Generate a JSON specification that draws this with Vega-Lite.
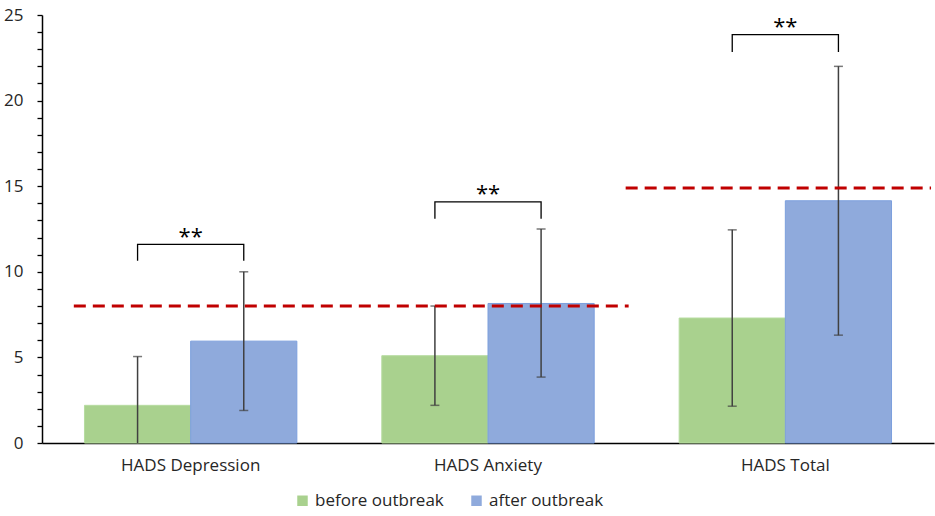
{
  "$schema": "https://vega.github.io/schema/vega-lite/v6.json",
  "width": 892,
  "height": 428,
  "autosize": {"type": "none"},
  "padding": {"left": 42, "top": 15, "right": 1, "bottom": 73},
  "config": {"font": "Open Sans", "view": {"stroke": null}},
  "datasets": {
    "bars": [
      {"cat": "HADS Depression", "grp": "before outbreak", "mean": 2.2, "lo": -0.65, "hi": 5.05},
      {"cat": "HADS Depression", "grp": "after outbreak", "mean": 5.95, "lo": 1.9, "hi": 10.0},
      {"cat": "HADS Anxiety", "grp": "before outbreak", "mean": 5.1, "lo": 2.2, "hi": 8.0},
      {"cat": "HADS Anxiety", "grp": "after outbreak", "mean": 8.15, "lo": 3.85, "hi": 12.5},
      {"cat": "HADS Total", "grp": "before outbreak", "mean": 7.3, "lo": 2.15, "hi": 12.45},
      {"cat": "HADS Total", "grp": "after outbreak", "mean": 14.15, "lo": 6.3, "hi": 22.0}
    ],
    "brackets": [
      {"cat": "HADS Depression", "grp": "before outbreak", "y": 10.65, "ord": 1},
      {"cat": "HADS Depression", "grp": "before outbreak", "y": 11.6, "ord": 2},
      {"cat": "HADS Depression", "grp": "after outbreak", "y": 11.6, "ord": 3},
      {"cat": "HADS Depression", "grp": "after outbreak", "y": 10.65, "ord": 4},
      {"cat": "HADS Anxiety", "grp": "before outbreak", "y": 13.1, "ord": 1},
      {"cat": "HADS Anxiety", "grp": "before outbreak", "y": 14.08, "ord": 2},
      {"cat": "HADS Anxiety", "grp": "after outbreak", "y": 14.08, "ord": 3},
      {"cat": "HADS Anxiety", "grp": "after outbreak", "y": 13.1, "ord": 4},
      {"cat": "HADS Total", "grp": "before outbreak", "y": 22.84, "ord": 1},
      {"cat": "HADS Total", "grp": "before outbreak", "y": 23.85, "ord": 2},
      {"cat": "HADS Total", "grp": "after outbreak", "y": 23.85, "ord": 3},
      {"cat": "HADS Total", "grp": "after outbreak", "y": 22.84, "ord": 4}
    ],
    "stars": [
      {"cat": "HADS Depression", "y": 12.25, "label": "**"},
      {"cat": "HADS Anxiety", "y": 14.75, "label": "**"},
      {"cat": "HADS Total", "y": 24.53, "label": "**"}
    ],
    "cutoffs": [
      {"x0": 0.107, "x1": 1.973, "y": 8.0},
      {"x0": 1.963, "x1": 2.99, "y": 14.9}
    ]
  },
  "layer": [
    {
      "layer": [
        {
          "data": {"name": "bars"},
          "mark": {"type": "bar", "strokeWidth": 1},
          "encoding": {
            "x": {
              "field": "cat", "type": "nominal",
              "sort": ["HADS Depression", "HADS Anxiety", "HADS Total"],
              "scale": {"paddingInner": 0, "paddingOuter": 0},
              "axis": {"title": null, "labelAngle": 0, "ticks": false, "domainColor": "#000000", "domainWidth": 1.5, "labelPadding": 14, "labelFontSize": 17, "labelColor": "#262626"}
            },
            "xOffset": {
              "field": "grp", "type": "nominal",
              "sort": ["before outbreak", "after outbreak"],
              "scale": {"paddingInner": 0, "paddingOuter": 0.4}
            },
            "y": {
              "field": "mean", "type": "quantitative",
              "scale": {"domain": [0, 25], "nice": false, "zero": true},
              "axis": {
                "title": null, "grid": false,
                "tickCount": 25,
                "labelExpr": "datum.value % 5 === 0 ? datum.label : ''",
                "tickSize": 5, "labelPadding": 14, "labelFontSize": 17, "labelColor": "#262626",
                "domainColor": "#000000", "domainWidth": 1.5, "tickColor": "#000000", "tickWidth": 1.3,
                "encode": {"ticks": {"update": {
                  "x": {"signal": "datum.value % 5 === 0 ? 6.5 : 0"},
                  "x2": {"signal": "datum.value % 5 === 0 ? -7 : -5"}
                }}}
              }
            },
            "color": {
              "field": "grp", "type": "nominal",
              "scale": {"domain": ["before outbreak", "after outbreak"], "range": ["#A9D18E", "#8FAADC"]},
              "legend": {"orient": "none", "legendX": 252, "legendY": 477, "direction": "horizontal", "title": null, "symbolType": "square", "symbolSize": 110, "symbolStrokeWidth": 0, "labelFontSize": 17, "labelColor": "#262626", "columnPadding": 24, "labelOffset": 4}
            },
            "stroke": {
              "field": "grp", "type": "nominal",
              "scale": {"domain": ["before outbreak", "after outbreak"], "range": ["#B7DCA0", "#7C9FDD"]},
              "legend": null
            }
          }
        },
        {
          "data": {"name": "bars"},
          "mark": {"type": "rule", "color": "#404040", "strokeWidth": 1.5, "clip": true},
          "encoding": {
            "x": {"field": "cat", "type": "nominal", "sort": ["HADS Depression", "HADS Anxiety", "HADS Total"]},
            "xOffset": {"field": "grp", "type": "nominal", "sort": ["before outbreak", "after outbreak"]},
            "y": {"field": "lo", "type": "quantitative", "scale": {"domain": [0, 25], "nice": false}},
            "y2": {"field": "hi"}
          }
        },
        {
          "data": {"name": "bars"},
          "mark": {"type": "tick", "orient": "horizontal", "color": "#404040", "thickness": 1.5, "size": 9, "clip": true},
          "encoding": {
            "x": {"field": "cat", "type": "nominal", "sort": ["HADS Depression", "HADS Anxiety", "HADS Total"]},
            "xOffset": {"field": "grp", "type": "nominal", "sort": ["before outbreak", "after outbreak"]},
            "y": {"field": "lo", "type": "quantitative", "scale": {"domain": [0, 25], "nice": false}}
          }
        },
        {
          "data": {"name": "bars"},
          "mark": {"type": "tick", "orient": "horizontal", "color": "#404040", "thickness": 1.5, "size": 9, "clip": true},
          "encoding": {
            "x": {"field": "cat", "type": "nominal", "sort": ["HADS Depression", "HADS Anxiety", "HADS Total"]},
            "xOffset": {"field": "grp", "type": "nominal", "sort": ["before outbreak", "after outbreak"]},
            "y": {"field": "hi", "type": "quantitative", "scale": {"domain": [0, 25], "nice": false}}
          }
        },
        {
          "data": {"name": "brackets"},
          "mark": {"type": "line", "color": "#000000", "strokeWidth": 1.3},
          "encoding": {
            "x": {"field": "cat", "type": "nominal", "sort": ["HADS Depression", "HADS Anxiety", "HADS Total"]},
            "xOffset": {"field": "grp", "type": "nominal", "sort": ["before outbreak", "after outbreak"]},
            "y": {"field": "y", "type": "quantitative", "scale": {"domain": [0, 25], "nice": false}},
            "order": {"field": "ord", "type": "quantitative"},
            "detail": {"field": "cat", "type": "nominal"}
          }
        },
        {
          "data": {"name": "stars"},
          "mark": {"type": "text", "fontSize": 22, "color": "#000000", "baseline": "middle", "align": "center", "dy": 4},
          "encoding": {
            "x": {"field": "cat", "type": "nominal", "sort": ["HADS Depression", "HADS Anxiety", "HADS Total"]},
            "y": {"field": "y", "type": "quantitative", "scale": {"domain": [0, 25], "nice": false}},
            "text": {"field": "label"}
          }
        }
      ]
    },
    {
      "data": {"name": "cutoffs"},
      "mark": {"type": "rule", "color": "#C00000", "strokeWidth": 3, "strokeDash": [12, 7]},
      "encoding": {
        "x": {"field": "x0", "type": "quantitative", "scale": {"domain": [0, 3], "nice": false, "zero": false}, "axis": null},
        "x2": {"field": "x1"},
        "y": {"field": "y", "type": "quantitative", "scale": {"domain": [0, 25], "nice": false}}
      }
    }
  ],
  "resolve": {"scale": {"x": "independent"}}
}
